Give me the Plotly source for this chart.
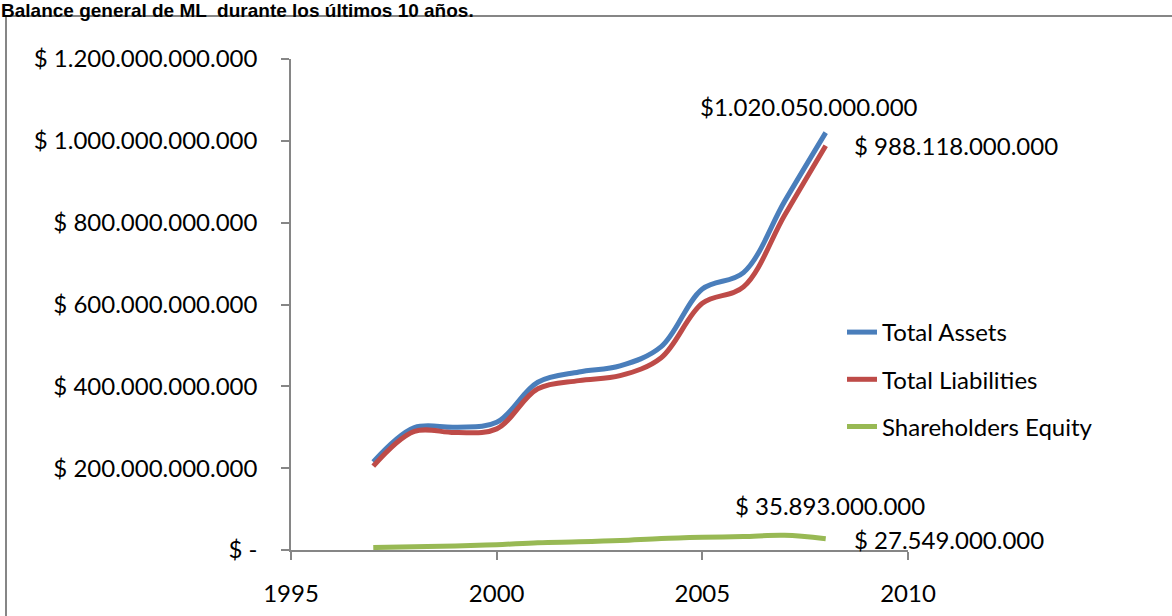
import plotly.graph_objects as go

# ---- data ----
years = [1997, 1998, 1999, 2000, 2001, 2002, 2003, 2004, 2005, 2006, 2007, 2008]
total_assets_bn = [215, 299, 300, 312, 410, 435, 450, 497, 638, 678, 852, 1020.05]
total_liabilities_bn = [205, 290, 287, 296, 394, 414, 426, 470, 603, 643, 818, 988.118]
shareholders_equity_bn = [6, 8, 10, 13, 18, 20, 23, 28, 31, 33, 35.893, 27.549]

series_names = ["Total Assets", "Total Liabilities", "Shareholders Equity"]
series_colors = ["#4A7EBB", "#BE4B48", "#98B954"]

y_tick_values = [0, 200e9, 400e9, 600e9, 800e9, 1000e9, 1200e9]
y_tick_labels = ["$ -", "$ 200.000.000.000", "$ 400.000.000.000", "$ 600.000.000.000",
                 "$ 800.000.000.000", "$ 1.000.000.000.000", "$ 1.200.000.000.000"]
x_tick_values = [1995, 2000, 2005, 2010]

title_text = "Balance general de ML  durante los últimos 10 años."

assets = [v * 1e9 for v in total_assets_bn]
liabilities = [v * 1e9 for v in total_liabilities_bn]
equity = [v * 1e9 for v in shareholders_equity_bn]


def money(v, space=True):
    s = f"{round(v):,}".replace(",", ".")
    return ("$ " if space else "$") + s


FONT = "Lato"
FS = 24
W, H = 1172, 616
ML, MR, MT, MB = 291, 264, 59, 66
PW, PH = W - ML - MR, H - MT - MB

fig = go.Figure()
for name, ys, col in zip(series_names, [assets, liabilities, equity], series_colors):
    fig.add_trace(go.Scatter(
        x=years, y=ys, name=name, mode="lines", legendgroup=name,
        line=dict(color=col, width=5, shape="spline", smoothing=1.0),
        hoverinfo="skip",
    ))


def px2paper_x(px):
    return (px - ML) / PW


def px2paper_y(py):
    return (H - MB - py) / PH


annotations = [
    dict(x=years[-1], y=assets[-1], text=money(assets[-1], space=False),
         showarrow=False, xanchor="center", yanchor="middle", xshift=-17, yshift=26),
    dict(x=years[-1], y=liabilities[-1], text=money(liabilities[-1]),
         showarrow=False, xanchor="left", yanchor="middle", xshift=26, yshift=0),
    dict(x=years[-2], y=equity[-2], text=money(equity[-2]),
         showarrow=False, xanchor="center", yanchor="middle", xshift=45, yshift=30),
    dict(x=years[-1], y=equity[-1], text=money(equity[-1]),
         showarrow=False, xanchor="left", yanchor="middle", xshift=26, yshift=-1),
    dict(xref="paper", yref="paper", x=px2paper_x(0), y=px2paper_y(-1),
         text="<b>" + title_text + "</b>", showarrow=False,
         xanchor="left", yanchor="top", borderpad=0,
         font=dict(family="Liberation Sans, Arial", size=19, color="black")),
]

fig.update_layout(
    width=W, height=H,
    margin=dict(l=ML, r=MR, t=MT, b=MB, pad=0, autoexpand=False),
    paper_bgcolor="white", plot_bgcolor="white",
    font=dict(family=FONT, size=FS, color="black"),
    showlegend=True,
    legend=dict(x=px2paper_x(842), y=px2paper_y(310), xanchor="left", yanchor="top",
                bgcolor="rgba(0,0,0,0)", borderwidth=0, tracegroupgap=13,
                itemwidth=30, font=dict(family=FONT, size=FS, color="black")),
    annotations=annotations,
    shapes=[dict(type="rect", xref="paper", yref="paper",
                 x0=px2paper_x(6), y0=px2paper_y(640), x1=px2paper_x(1190), y1=px2paper_y(16),
                 line=dict(color="#868686", width=2), fillcolor="rgba(0,0,0,0)", layer="below")],
)

fig.update_xaxes(
    range=[1995, 2010], tickvals=x_tick_values, ticktext=[str(v) for v in x_tick_values],
    showgrid=False, zeroline=False, showline=True, linecolor="#868686", linewidth=1.5,
    ticks="outside", ticklen=8, tickwidth=1.5, tickcolor="#868686", automargin=False,
    ticklabelstandoff=13, tickfont=dict(family=FONT, size=FS, color="black"),
)
fig.update_yaxes(
    range=[0, 1.2e12], tickvals=y_tick_values, ticktext=y_tick_labels,
    showgrid=False, zeroline=False, showline=True, linecolor="#868686", linewidth=1.5,
    ticks="outside", ticklen=8, tickwidth=1.5, tickcolor="#868686", automargin=False,
    ticklabelstandoff=19, tickfont=dict(family=FONT, size=FS, color="black"),
)

fig.write_html("out.html")
